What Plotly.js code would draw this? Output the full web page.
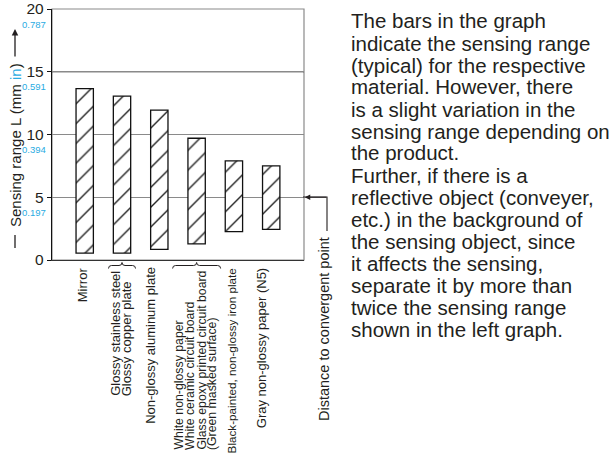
<!DOCTYPE html>
<html>
<head>
<meta charset="utf-8">
<script src="https://cdn.plot.ly/plotly-3.0.1.min.js"></script>
<style>
  html, body { margin: 0; padding: 0; background: #fff; }
  #chart { width: 615px; height: 457px; }
</style>
</head>
<body>
<div id="chart"></div>
<script>
// ---------------- data ----------------
const labelLines = [
  ['Mirror'],
  ['Glossy stainless steel', 'Glossy copper plate'],
  ['Non-glossy aluminum plate'],
  ['White non-glossy paper', 'White ceramic circuit board', 'Glass epoxy printed circuit board', '(Green masked surface)'],
  ['Black-painted, non-glossy iron plate'],
  ['Gray non-glossy paper (N5)']
];
const rangeMax = [13.65, 13.05, 11.95, 9.7, 7.9, 7.5];
const rangeMin = [0.55, 0.55, 0.85, 1.28, 2.26, 2.44];
const mmTicks = [0, 5, 10, 15, 20];
const mmTickText = ['0', '5', '10', '15', '20'];
const inchTicks = [5, 10, 15, 20];
const inchTickText = ['0.197', '0.394', '0.591', '0.787'];
const convergentPoint = 5;
const bracedGroups = [1, 3];
const noteLines = [
  'The bars in the graph',
  'indicate the sensing range',
  '(typical) for the respective',
  'material. However, there',
  'is a slight variation in the',
  'sensing range depending on',
  'the product.',
  'Further, if there is a',
  'reflective object (conveyer,',
  'etc.) in the background of',
  'the sensing object, since',
  'it affects the sensing,',
  'separate it by more than',
  'twice the sensing range',
  'shown in the left graph.'
];

// ---------------- layout helpers ----------------
const W = 615, H = 457;
const M = { l: 52, r: 311, t: 9, b: 197 };
const PW = W - M.l - M.r, PH = H - M.t - M.b;
const px2x = px => (px - M.l) / PW;
const py2y = py => (M.t + PH - py) / PH;
const TXT = '#231f20';
const CYAN = '#29abe2';
const FONT = '"Liberation Sans", Arial, sans-serif';
const NARROW = '"Liberation Sans Narrow", "Liberation Sans", sans-serif';

const catIdx = labelLines.map((_, i) => i);
const xRange = [-0.877, 5.879];
const unitPx = PW / (xRange[1] - xRange[0]);

// measure text
const ctx = document.createElement('canvas').getContext('2d');
const tw = (s, fs) => { ctx.font = fs + 'px "Liberation Sans"'; return ctx.measureText(s).width; };

const groupFont = [13, 13, 13, 12.3, 11.7, 13];
const groupShift = [-2, -1, -9, -1, -2, -10];
const groupGap = [11.5, 11.5, 11.5, 11, 11.5, 11.5];
const groupTop = [265, 269, 265, 269, 266, 266];

const annotations = [];
// category labels (one annotation per line, left-aligned in reading direction)
labelLines.forEach((lines, i) => {
  const fs = groupFont[i];
  const maxW = Math.max(...lines.map(s => tw(s, fs)));
  lines.forEach((s, j) => {
    annotations.push({
      x: catIdx[i], xref: 'x', y: py2y(groupTop[i]), yref: 'paper',
      xshift: groupShift[i] + (j - (lines.length - 1) / 2) * groupGap[i],
      yshift: -(maxW - tw(s, fs)),
      text: s, textangle: -90, showarrow: false,
      xanchor: 'center', yanchor: 'top',
      font: { family: FONT, size: fs, color: TXT }
    });
  });
});

// inch tick labels
inchTicks.forEach((v, i) => {
  annotations.push({
    x: px2x(47.5), xref: 'paper', y: v, yref: 'y', yshift: -15,
    text: inchTickText[i], showarrow: false, xanchor: 'right', yanchor: 'middle',
    font: { family: NARROW, size: 9.5, color: CYAN }
  });
});

// y-axis title
annotations.push({
  x: px2x(15), xref: 'paper', y: py2y(145), yref: 'paper',
  text: 'Sensing range L (mm <span style="color:' + CYAN + '">in</span>)',
  textangle: -90, showarrow: false, xanchor: 'center', yanchor: 'middle',
  font: { family: FONT, size: 15, color: TXT }
});
// y-title arrow
annotations.push({
  x: px2x(15), xref: 'paper', y: py2y(29), yref: 'paper',
  ax: 0, ay: 29, axref: 'pixel', ayref: 'pixel', text: '',
  showarrow: true, arrowhead: 2, arrowsize: 1, arrowwidth: 1.3, arrowcolor: TXT
});

// convergent point arrow
annotations.push({
  x: 1.003, xref: 'paper', y: convergentPoint, yref: 'y',
  ax: 23, ay: 0, text: '', showarrow: true, arrowhead: 2, arrowsize: 1,
  arrowwidth: 1.1, arrowcolor: TXT
});
annotations.push({
  x: px2x(324), xref: 'paper', y: py2y(235), yref: 'paper',
  text: 'Distance to convergent point', textangle: -90, showarrow: false,
  xanchor: 'center', yanchor: 'top',
  font: { family: FONT, size: 14.5, color: TXT }
});

// explanatory note
noteLines.forEach((s, k) => {
  annotations.push({
    x: px2x(349), xref: 'paper', y: py2y(21 + 22 * k), yref: 'paper',
    text: s, showarrow: false, xanchor: 'left', yanchor: 'middle',
    font: { family: FONT, size: 20.5, color: TXT }
  });
});

// shapes
const shapes = [];
shapes.push({ type: 'rect', xref: 'paper', yref: 'paper', x0: 0, x1: 1, y0: 0, y1: 1,
  line: { color: '#8a8a8a', width: 1.2 }, layer: 'below' });
shapes.push({ type: 'line', xref: 'paper', yref: 'y', x0: 0, x1: 1, y0: 15, y1: 15,
  line: { color: '#111', width: 1 }, layer: 'below' });
// title dash
shapes.push({ type: 'line', xref: 'paper', yref: 'paper', x0: px2x(15), x1: px2x(15),
  y0: py2y(248), y1: py2y(235), line: { color: TXT, width: 1.3 } });
// convergent connector
shapes.push({ type: 'path', xref: 'paper', yref: 'paper',
  path: 'M ' + px2x(303) + ',' + py2y(197) + ' L ' + px2x(327) + ',' + py2y(197) + ' L ' + px2x(327) + ',' + py2y(231),
  line: { color: TXT, width: 1.1 } });
// braces over grouped labels
bracedGroups.forEach(i => {
  const n = labelLines[i].length;
  const half = (n * groupGap[i]) / 2 + 2;
  const c = catIdx[i] + (groupShift[i] + 1) / unitPx;
  const x0 = c - half / unitPx, x1 = c + half / unitPx, d = 3 / unitPx;
  const yb = py2y(268.5), ym = py2y(265.5), yt = py2y(262.5);
  const p = `M ${x0},${yb} Q ${x0},${ym} ${x0 + d},${ym} L ${c - d},${ym} Q ${c},${ym} ${c},${yt} Q ${c},${ym} ${c + d},${ym} L ${x1 - d},${ym} Q ${x1},${ym} ${x1},${yb}`;
  shapes.push({ type: 'path', xref: 'x', yref: 'paper', path: p, line: { color: TXT, width: 1 } });
});

const trace = {
  type: 'bar',
  x: catIdx,
  y: rangeMax.map((v, i) => v - rangeMin[i]),
  base: rangeMin,
  width: 0.465,
  marker: {
    color: 'white',
    line: { color: '#111', width: 1.3 },
    pattern: { shape: '/', fgcolor: '#222', bgcolor: 'white', size: 14, solidity: 0.1 }
  },
  hoverinfo: 'skip'
};

const layout = {
  width: W, height: H,
  margin: M,
  paper_bgcolor: 'white', plot_bgcolor: 'white',
  showlegend: false,
  font: { family: FONT, color: TXT },
  xaxis: {
    range: xRange, showticklabels: false, ticks: '', showgrid: false, zeroline: false,
    showline: true, linecolor: '#333', linewidth: 1.2
  },
  yaxis: {
    range: [0, 20], tickvals: mmTicks, ticktext: mmTickText,
    ticks: 'outside', ticklen: 4, tickcolor: '#111', tickwidth: 1,
    tickfont: { family: FONT, size: 15.5, color: TXT },
    showgrid: true, gridcolor: '#8a8a8a', gridwidth: 1.1, zeroline: false,
    showline: true, linecolor: '#111', linewidth: 1.2
  },
  annotations: annotations,
  shapes: shapes
};

Plotly.newPlot('chart', [trace], layout, { displayModeBar: false, staticPlot: true });
</script>
</body>
</html>
